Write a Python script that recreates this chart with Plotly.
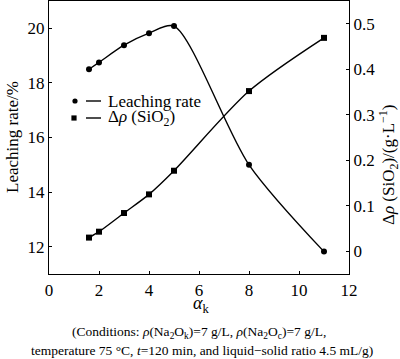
import plotly.graph_objects as go

alpha_k = [1.6, 2, 3, 4, 5, 8, 11]
leaching_rate = [18.5, 18.75, 19.38, 19.82, 20.08, 15.0, 11.82]
delta_sio2 = [0.030, 0.043, 0.084, 0.125, 0.177, 0.352, 0.469]

FONT = "'Liberation Serif', 'Times New Roman', Times, 'DejaVu Serif', serif"
W, H = 400, 359
L, R, T, B = 49, 51, 1, 85
pw, ph = W - L - R, H - T - B

def px(x):
    return (x - L) / pw

def py(y):
    return (H - B - y) / ph

fig = go.Figure()
fig.add_trace(go.Scatter(
    x=alpha_k, y=leaching_rate, mode="lines+markers", name="Leaching rate",
    line=dict(color="black", width=1.4, shape="spline", smoothing=0.8),
    marker=dict(symbol="circle", size=6, color="black"), yaxis="y", showlegend=False))
fig.add_trace(go.Scatter(
    x=alpha_k, y=delta_sio2, mode="lines+markers", name="Δρ(SiO2)",
    line=dict(color="black", width=1.4, shape="spline", smoothing=0.8),
    marker=dict(symbol="square", size=6, color="black"), yaxis="y2", showlegend=False))

axis_common = dict(showline=True, linecolor="black", linewidth=1.2, ticks="inside",
                   ticklen=3, tickwidth=1, tickcolor="black", showgrid=False, zeroline=False,
                   tickfont=dict(family=FONT, size=17, color="black"))

fig.update_layout(
    width=W, height=H, margin=dict(l=L, r=R, t=T, b=B),
    paper_bgcolor="white", plot_bgcolor="white", showlegend=False,
    font=dict(family=FONT, color="black"),
    xaxis=dict(range=[0, 12], dtick=2, mirror=True, **axis_common),
    yaxis=dict(range=[11, 21], dtick=2, **axis_common),
    yaxis2=dict(range=[-0.05, 0.55], dtick=0.1, overlaying="y", side="right", **axis_common),
)

# manual legend
leg = [(101, "circle", "Leaching rate"), (118, "square", "Δ<i>ρ</i> (SiO<sub>2</sub>)")]
for yy, sym, txt in leg:
    r = 2.6
    if sym == "circle":
        fig.add_shape(type="circle", xref="paper", yref="paper",
                      x0=px(75 - r), x1=px(75 + r), y0=py(yy + r), y1=py(yy - r),
                      fillcolor="black", line=dict(color="black", width=0))
    else:
        fig.add_shape(type="rect", xref="paper", yref="paper",
                      x0=px(74 - r), x1=px(74 + r), y0=py(yy + r), y1=py(yy - r),
                      fillcolor="black", line=dict(color="black", width=0))
    fig.add_shape(type="line", xref="paper", yref="paper",
                  x0=px(86), x1=px(101), y0=py(yy), y1=py(yy),
                  line=dict(color="black", width=1.4))
    fig.add_annotation(x=px(106), y=py(yy), xref="paper", yref="paper", text=txt,
                       showarrow=False, xanchor="left", yanchor="middle",
                       font=dict(family=FONT, size=17, color="black"))

# axis titles
fig.add_annotation(x=px(12), y=py(137), xref="paper", yref="paper", text="Leaching rate/%",
                   textangle=-90, showarrow=False, xanchor="center", yanchor="middle",
                   font=dict(family=FONT, size=17, color="black"))
fig.add_annotation(x=px(388), y=py(165), xref="paper", yref="paper",
                   text="Δ<i>ρ</i> (SiO<sub>2</sub>)/(g·L<sup>−1</sup>)",
                   textangle=-90, showarrow=False, xanchor="center", yanchor="middle",
                   font=dict(family=FONT, size=17, color="black"))
fig.add_annotation(x=px(201), y=py(304), xref="paper", yref="paper",
                   text="<i>α</i><sub>k</sub>",
                   showarrow=False, xanchor="center", yanchor="middle",
                   font=dict(family=FONT, size=18, color="black"))

# caption
fig.add_annotation(x=px(199), y=py(332), xref="paper", yref="paper",
                   text="(Conditions: <i>ρ</i>(Na<sub>2</sub>O<sub>k</sub>)=7 g/L, <i>ρ</i>(Na<sub>2</sub>O<sub>c</sub>)=7 g/L,",
                   showarrow=False, xanchor="center", yanchor="middle",
                   font=dict(family=FONT, size=13.5, color="black"))
fig.add_annotation(x=px(202), y=py(350), xref="paper", yref="paper",
                   text="temperature 75 °C, <i>t</i>=120 min, and liquid−solid ratio 4.5 mL/g)",
                   showarrow=False, xanchor="center", yanchor="middle",
                   font=dict(family=FONT, size=13.5, color="black"))

fig.write_html("out.html", config={"displayModeBar": False},
               post_script="document.body.style.margin='0';document.body.style.padding='0';")
